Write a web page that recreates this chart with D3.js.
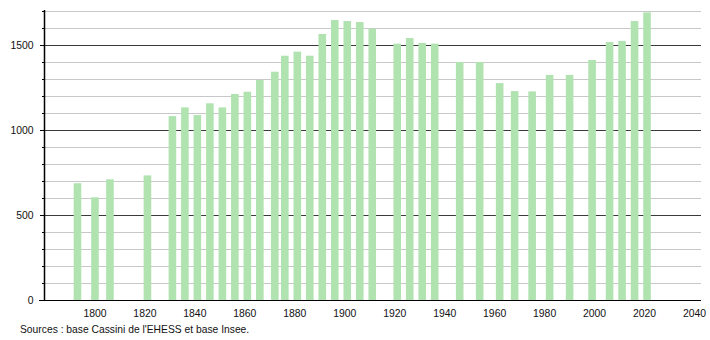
<!DOCTYPE html>
<html><head><meta charset="utf-8">
<script src="https://cdn.jsdelivr.net/npm/d3@7"></script>
<style>body{margin:0;background:#fff;}svg{display:block;font-family:"Liberation Sans",Arial,sans-serif;}</style>
</head><body>
<svg id="c" width="710" height="340"></svg>
<script>
const years = [1793,1800,1806,1821,1831,1836,1841,1846,1851,1856,1861,1866,1872,1876,1881,1886,1891,1896,1901,1906,1911,1921,1926,1931,1936,1946,1954,1962,1968,1975,1982,1990,1999,2006,2011,2016,2021];
const population = [687,604,710,733,1082,1133,1088,1157,1133,1212,1225,1294,1343,1437,1461,1437,1565,1647,1641,1635,1596,1508,1541,1512,1508,1400,1400,1276,1229,1227,1324,1324,1412,1518,1524,1641,1692];
const xTicks = [1800,1820,1840,1860,1880,1900,1920,1940,1960,1980,2000,2020,2040];
const yMajor = [0,500,1000,1500];
const yMinor = d3.range(100,1800,100).filter(v=>v%500!==0);
const source = "Sources : base Cassini de l'EHESS et base Insee.";

const svg = d3.select("#c");
const x = d3.scaleLinear().domain([1780, 2042.6]).range([45, 701]);
const y = d3.scaleLinear().domain([0, 1700]).range([300, 11]);

// minor grid
svg.append("g").selectAll("line").data(yMinor).join("line")
  .attr("x1",45).attr("x2",701).attr("y1",d=>y(d)).attr("y2",d=>y(d))
  .attr("stroke","#c8c8c8").attr("stroke-width",1).attr("shape-rendering","crispEdges");
// major grid
svg.append("g").selectAll("line").data(yMajor.filter(d=>d>0)).join("line")
  .attr("x1",45).attr("x2",701).attr("y1",d=>y(d)).attr("y2",d=>y(d))
  .attr("stroke","#3a3a3a").attr("stroke-width",1).attr("shape-rendering","crispEdges");

// bars
const bw = 7.6;
svg.append("g").selectAll("rect").data(years).join("rect")
  .attr("x",(d)=>x(d)-bw/2).attr("width",bw)
  .attr("y",(d,i)=>y(population[i])).attr("height",(d,i)=>y(0)-y(population[i]))
  .attr("fill","#b1e3b1");

// y axis
const ya = svg.append("g").attr("transform","translate(44.5,0)");
ya.append("line").attr("x1",0).attr("x2",0).attr("y1",y(1700)-1).attr("y2",y(0)).attr("stroke","#000").attr("stroke-width",1.5);
ya.selectAll(".mn").data(yMinor).join("line").attr("class","mn")
  .attr("x1",-3).attr("x2",0).attr("y1",d=>y(d)).attr("y2",d=>y(d)).attr("stroke","#000").attr("shape-rendering","crispEdges");
ya.selectAll(".mj").data(yMajor).join("line").attr("class","mj")
  .attr("x1",-5).attr("x2",0).attr("y1",d=>y(d)).attr("y2",d=>y(d)).attr("stroke","#000").attr("shape-rendering","crispEdges");
ya.selectAll("text").data(yMajor).join("text")
  .attr("x",-11).attr("y",d=>y(d)).attr("dy","0.35em").attr("text-anchor","end")
  .attr("font-size",10.4).attr("fill","#111").text(d=>d);

// x axis
svg.append("line").attr("x1",39).attr("x2",701).attr("y1",300.5).attr("y2",300.5).attr("stroke","#000").attr("stroke-width",1.2);
svg.append("g").selectAll("text").data(xTicks).join("text")
  .attr("x",d=>x(d)).attr("y",317).attr("text-anchor","middle")
  .attr("font-size",10.4).attr("fill","#111").text(d=>d);

svg.append("text").attr("x",20).attr("y",333).attr("font-size",10.3).attr("fill","#111").text(source);
</script>
</body></html>
